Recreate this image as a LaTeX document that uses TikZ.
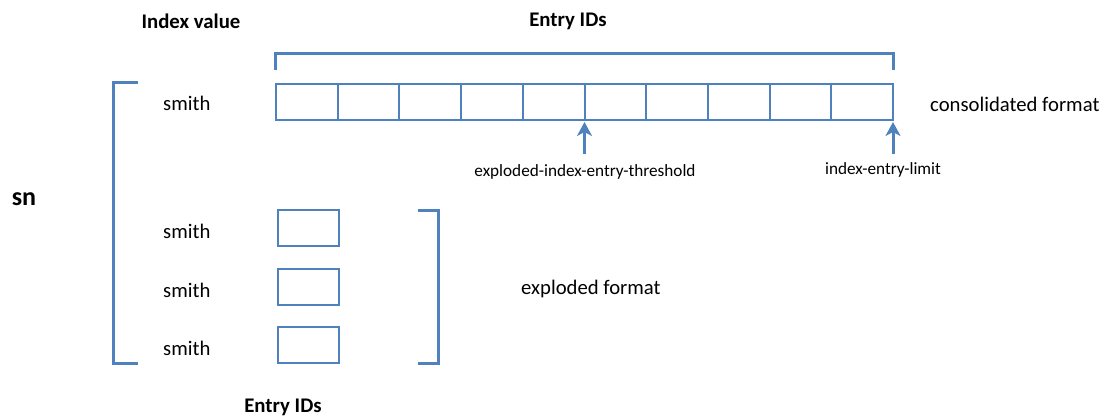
\documentclass[tikz,border=0pt]{standalone}
\usepackage{fontspec}
\setmainfont{Carlito}
\usetikzlibrary{arrows.meta,calc}
\definecolor{lineblue}{HTML}{4F81BD}
\begin{document}
\begin{tikzpicture}[x=1pt,y=-1pt,
  cell/.style={draw=lineblue,line width=2pt,minimum width=61.7pt,minimum height=36pt,inner sep=0pt,outer sep=0pt},
  small/.style={draw=lineblue,line width=2pt,minimum width=61pt,minimum height=36pt,inner sep=0pt,outer sep=0pt},
  brk/.style={draw=lineblue,line width=3pt,line cap=butt,line join=miter},
  lbl/.style={font=\fontsize{20.7}{24}\selectfont,inner sep=0pt,text=black},
  hdr/.style={font=\fontsize{20.8}{24}\selectfont\bfseries,inner sep=0pt,text=black},
  note/.style={font=\fontsize{17.2}{20}\selectfont,inner sep=0pt,text=black},
  uparrow/.style={draw=lineblue,line width=3pt,-{Stealth[length=14pt,width=15pt,inset=4pt]}}
]
\useasboundingbox (0,0) rectangle (1108,417);
% headers
\node[hdr] (hidx) at (191,21) {Index value};
\node[hdr] (hent) at (568,21) {Entry IDs};
\node[hdr] (hent2) at (283,407) {Entry IDs};
\node[font=\fontsize{26}{30}\selectfont\bfseries,inner sep=0pt] (sn) at (24,199) {sn};
% consolidated row
\foreach \i in {1,...,10} {
  \node[cell] (c\i) at ({276+61.7*(\i-0.5)},102) {};
}
% top bracket
\coordinate (tbl) at (275,70);
\coordinate (tbr) at (893,70);
\draw[brk] (tbl) -- ++(0,-16) -| (tbr);
% labels on the right
\node[lbl,anchor=west] (cons) at (930,104) {consolidated format};
\node[lbl,anchor=west] (expl) at (521,289) {exploded format};
% arrows
\coordinate (a1) at (c5.south east |- 0,154);
\coordinate (a2) at (c10.south east |- 0,154);
\draw[uparrow] (a1) -- ($(c5.south east)+(0,2)$);
\draw[uparrow] (a2) -- ($(c10.south east)+(0,2)$);
\node[note] (thr) at (585,172) {exploded-index-entry-threshold};
\node[note] (lim) at (883,170) {index-entry-limit};
% index values
\node[lbl,anchor=west] (s0) at (163,103) {smith};
\node[lbl,anchor=west] (s1) at (163,231) {smith};
\node[lbl,anchor=west] (s2) at (163,290) {smith};
\node[lbl,anchor=west] (s3) at (163,348) {smith};
% exploded boxes
\node[small] (e1) at (308.5,228) {};
\node[small] (e2) at (308.5,287) {};
\node[small] (e3) at (308.5,345) {};
% left bracket
\coordinate (lbt) at (138,83);
\coordinate (lbb) at (138,363);
\draw[brk] (lbt) -- ++(-25,0) -- ++(0,280) -- (lbb);
% right bracket
\coordinate (rbt) at (418,210);
\coordinate (rbb) at (418,363);
\draw[brk] (rbt) -- ++(20,0) -- ++(0,153) -- (rbb);
\end{tikzpicture}
\end{document}
